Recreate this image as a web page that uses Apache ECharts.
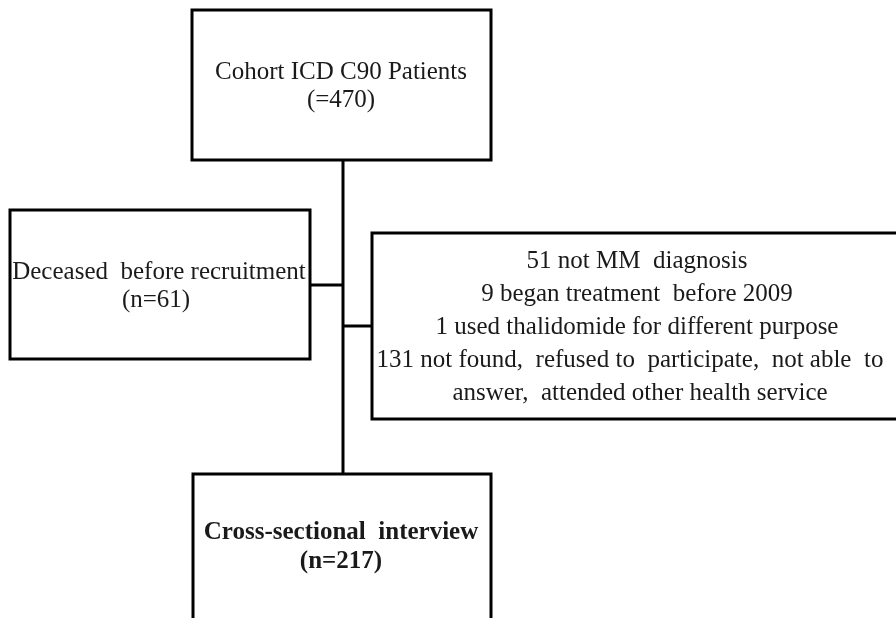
<!DOCTYPE html>
<html>
<head>
<meta charset="utf-8">
<script src="https://cdn.jsdelivr.net/npm/echarts@6/dist/echarts.min.js"></script>
<style>
  html, body { margin: 0; padding: 0; background: #fff; }
  #main { width: 896px; height: 618px; }
</style>
</head>
<body>
<div id="main"></div>
<script>
// texts of the flow boxes
const cohortText = ['Cohort ICD C90 Patients', '(=470)']
const deceasedText = ['Deceased  before recruitment', '(n=61)']
const excludedText = [
  '51 not MM  diagnosis',
  '9 began treatment  before 2009',
  '1 used thalidomide for different purpose',
  '131 not found,  refused to  participate,  not able  to',
  'answer,  attended other health service'
]
const interviewText = ['Cross-sectional  interview', '(n=217)']

// layout (axis units = pixels of the picture, y downwards)
const boxes = [
  { rect: [192, 10, 491, 160], cx: [341, 341], ys: [72, 100], lines: cohortText, bold: false },
  { rect: [10, 210, 310, 359], cx: [159, 156], ys: [272, 300], lines: deceasedText, bold: false },
  {
    rect: [372, 233, 905, 419],
    cx: [637, 637, 637, 630, 640],
    ys: [261, 294, 327, 360, 393],
    lines: excludedText,
    bold: false
  },
  { rect: [193, 474, 491, 650], cx: [341, 341], ys: [533, 562], lines: interviewText, bold: true }
]
const links = [
  [[343, 160], [343, 474]],
  [[310, 285], [343, 285]],
  [[343, 326], [372, 326]]
]

function renderBox(params, api) {
  const b = boxes[params.dataIndex]
  const p1 = api.coord([b.rect[0], b.rect[1]])
  const p2 = api.coord([b.rect[2], b.rect[3]])
  const children = [
    {
      type: 'rect',
      shape: { x: p1[0], y: p1[1], width: p2[0] - p1[0], height: p2[1] - p1[1] },
      style: { fill: '#fff', stroke: '#000', lineWidth: 3 }
    }
  ]
  b.lines.forEach((t, i) => {
    const p = api.coord([b.cx[i], b.ys[i]])
    children.push({
      type: 'text',
      style: {
        text: t,
        x: p[0],
        y: p[1],
        align: 'center',
        verticalAlign: 'middle',
        fontFamily: '"Liberation Serif", "Times New Roman", serif',
        fontSize: 25,
        fontWeight: b.bold ? 'bold' : 'normal',
        fill: '#1a1a1a'
      }
    })
  })
  return { type: 'group', children }
}

const chart = echarts.init(document.getElementById('main'))
chart.setOption({
  animation: false,
  backgroundColor: '#fff',
  grid: { left: 0, right: 0, top: 0, bottom: 0 },
  xAxis: { type: 'value', min: 0, max: 896, show: false },
  yAxis: { type: 'value', min: 0, max: 618, inverse: true, show: false },
  series: [
    ...links.map(l => ({
      type: 'line',
      data: l,
      symbol: 'none',
      lineStyle: { color: '#000', width: 3 },
      z: 1
    })),
    {
      type: 'custom',
      renderItem: renderBox,
      data: boxes.map((b, i) => i),
      z: 2
    }
  ]
})
</script>
</body>
</html>
